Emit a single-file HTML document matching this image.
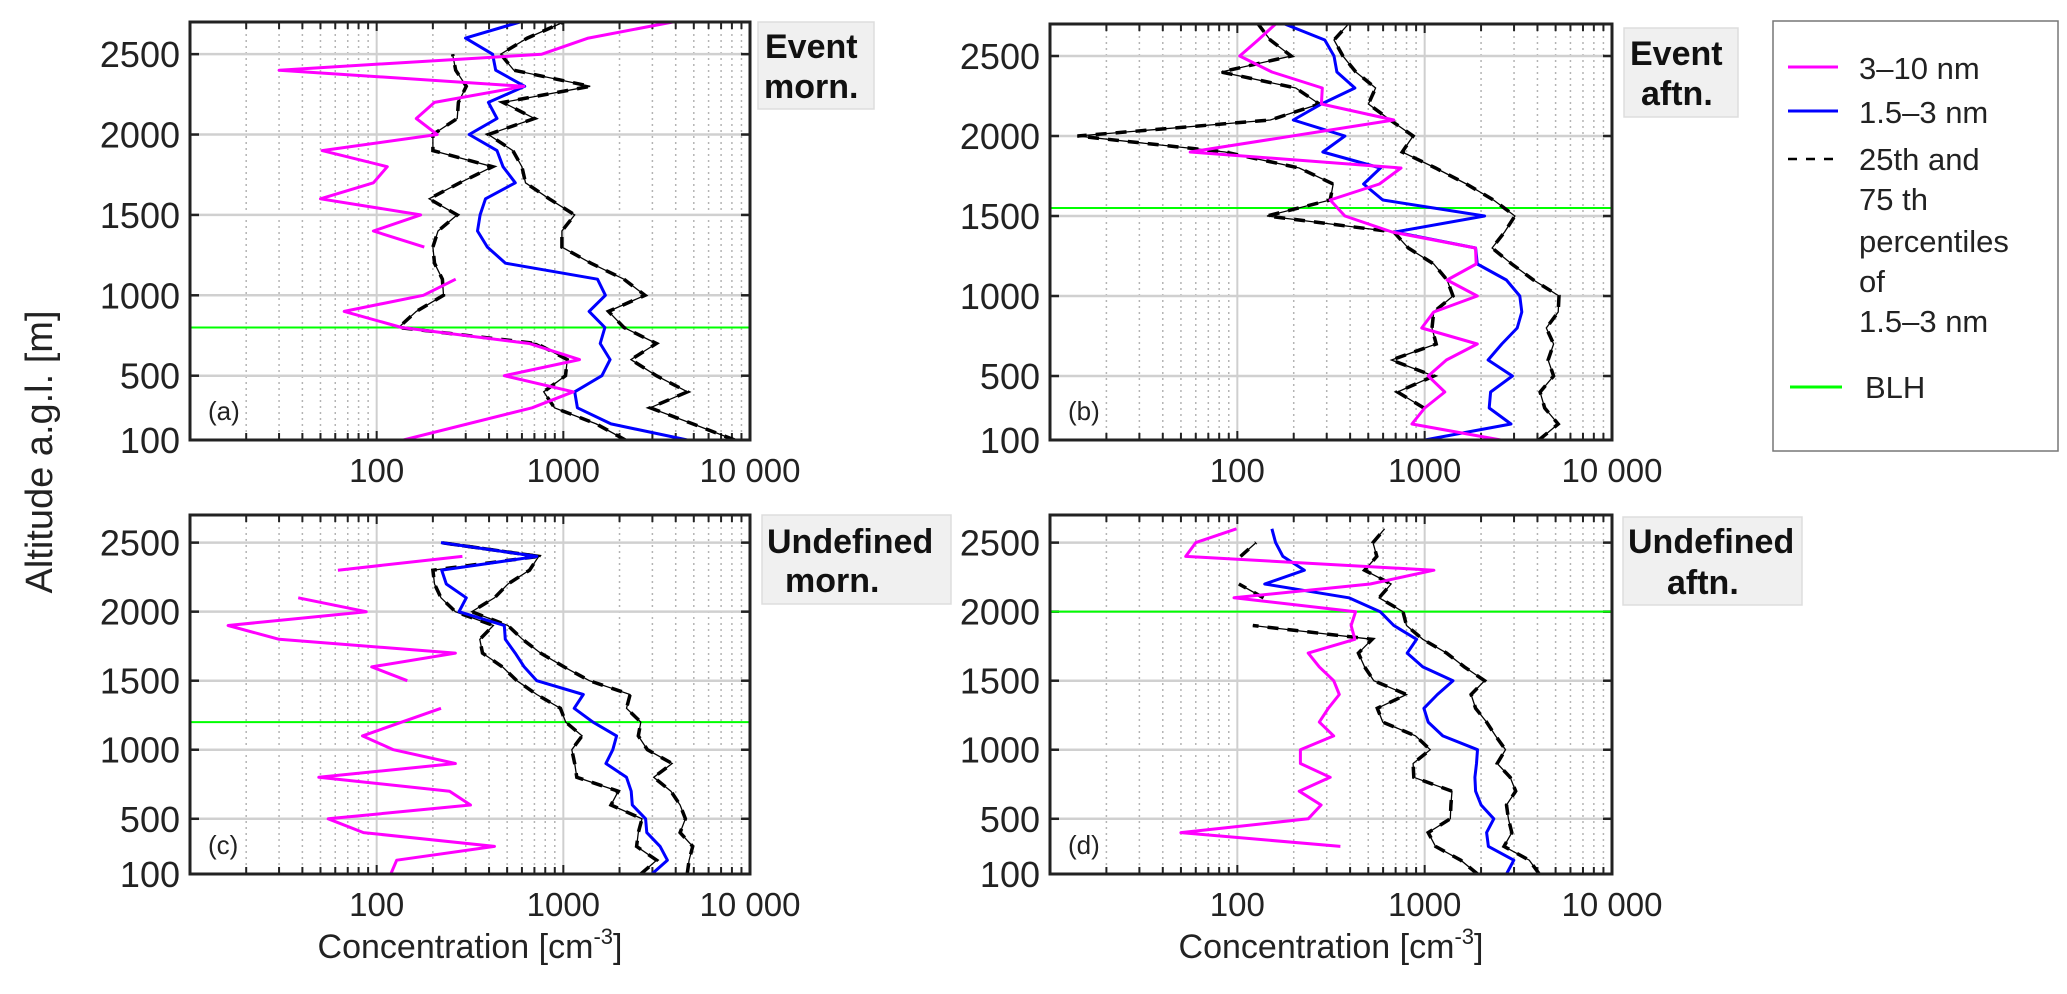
<!DOCTYPE html>
<html><head><meta charset="utf-8"><style>
html,body{margin:0;padding:0;background:#fff;}
svg{display:block;font-family:"Liberation Sans",Arial,sans-serif;}
</style></head><body>
<svg id="chart" width="2067" height="994" viewBox="0 0 2067 994" xmlns="http://www.w3.org/2000/svg">
<text x="0" y="0" transform="translate(52,452) rotate(-90)" text-anchor="middle" font-size="38" fill="#222">Altitude a.g.l. [m]</text>
<text x="470" y="958" text-anchor="middle" font-size="34" fill="#222">Concentration [cm<tspan dy="-14" font-size="22">-3</tspan><tspan dy="14">]</tspan></text>
<text x="1331" y="958" text-anchor="middle" font-size="34" fill="#222">Concentration [cm<tspan dy="-14" font-size="22">-3</tspan><tspan dy="14">]</tspan></text>

<g>
<rect x="1773" y="21" width="285" height="430" fill="#fff" stroke="#777" stroke-width="1.5"/>
<line x1="1788" y1="67" x2="1838" y2="67" stroke="#ff00ff" stroke-width="3"/>
<text x="1859" y="79" font-size="31" fill="#222">3–10 nm</text>
<line x1="1788" y1="111" x2="1838" y2="111" stroke="#0000ff" stroke-width="3"/>
<text x="1859" y="123" font-size="31" fill="#222">1.5–3 nm</text>
<line x1="1788" y1="159" x2="1842" y2="159" stroke="#000" stroke-width="2.5" stroke-dasharray="9 9"/>
<text font-size="31" fill="#222"><tspan x="1859" y="170">25th and</tspan><tspan x="1859" y="210">75 th</tspan><tspan x="1859" y="252">percentiles</tspan><tspan x="1859" y="292">of</tspan><tspan x="1859" y="332">1.5–3 nm</tspan></text>
<line x1="1790" y1="387" x2="1842" y2="387" stroke="#00ff00" stroke-width="3"/>
<text x="1865" y="398" font-size="31" fill="#222">BLH</text>
</g>
</svg>
<script>
// ---- data: altitudes (m) and concentrations (cm^-3); null = gap ----
const yTicks = [100, 500, 1000, 1500, 2000, 2500];
const xTickVals = [100, 1000, 10000];
const xTickLabels = ["100", "1000", "10 000"];

const aMagAlt = [100,300,400,500,600,700,800,900,1000,1100,null,1300,1400,1500,1600,1700,1800,1900,2000,2100,2200,2300,2400,2500,2600,2700];
const aMagVal = [139,680,1130,483,1220,656,136,67,178,265,null,180,96,172,50,96,114,51,211,163,204,614,30,767,1360,3860];
const aBlueAlt = [100,200,300,400,500,600,700,800,900,1000,1100,1200,1300,1400,1500,1600,1700,1800,1900,2000,2100,2200,2300,2400,2500,2600,2700];
const aBlueVal = [4620,1800,1190,1150,1610,1780,1575,1670,1375,1680,1525,490,392,347,358,383,553,475,441,313,441,397,621,434,418,299,586];
const aP25Alt = [100,200,300,400,500,600,700,800,900,1000,1100,1200,1300,1400,1500,1600,1700,1800,1900,2000,2100,2200,2300,2400,2500];
const aP25Val = [2150,1500,897,785,1027,1050,718,131,163,228,225,204,200,213,270,191,279,418,200,200,270,274,302,265,255];
const aP75Alt = [100,200,300,400,500,600,700,800,900,1000,1100,1200,1300,1400,1500,1600,1700,1800,1900,2000,2100,2200,2300,2400,2500,2600,2700];
const aP75Val = [8280,4940,2920,4620,3150,2300,3150,2110,1745,2740,2110,1405,982,982,1150,840,627,600,536,397,701,475,1393,543,462,641,1005];
const aBlh = 800;

const bMagAlt = [100,200,300,400,500,600,700,800,900,1000,1100,1200,1300,1400,1500,1600,1700,1800,1900,2100,2200,2300,2400,2500,2600,2700];
const bMagVal = [2550,855,1000,1280,1045,1307,1910,964,1117,1910,1318,1885,1867,670,375,313,573,748,56,684,281,284,153,103,129,160];
const bBlueAlt = [100,200,300,400,500,600,700,800,900,1000,1100,1200,1300,1400,1500,1600,1700,1800,1900,2000,2100,2200,2300,2400,2500,2600,2700];
const bBlueVal = [1000,2890,2210,2250,2940,2180,2580,3120,3300,3220,2730,1910,1870,693,2090,598,472,581,286,375,199,281,424,340,328,293,179];
const bP25Alt = [300,400,500,600,700,800,900,1000,1100,1200,1300,1400,1500,1600,1700,1800,1900,2000,2100,2200,2300,2400,2500,2600,2700];
const bP25Val = [991,716,1117,664,1153,1094,1117,1416,1318,1117,818,684,144,313,325,214,86,14,150,274,205,82,194,150,129];
const bP75Alt = [100,200,300,400,500,600,700,800,900,1000,1100,1200,1300,1400,1500,1600,1700,1800,1900,2000,2100,2200,2300,2400,2500,2600,2700];
const bP75Val = [4070,5160,4370,4130,4880,4560,4880,4460,5160,5210,3810,2920,2290,2670,3030,2330,1670,1143,759,867,655,501,547,429,366,328,392];
const bBlh = 1550;

const cMagAlt = [100,200,300,400,500,600,700,800,900,1000,1100,1300,null,1500,1600,1700,1800,1900,2000,2100,null,2300,2400];
const cMagVal = [119,128,428,85,55,318,246,49,264,123,84,221,null,146,94,264,30,16,88,38,null,62,288];
const cBlueAlt = [100,200,300,400,500,600,700,800,900,1000,1100,1200,1300,1400,1500,1600,1700,1800,1900,2000,2100,2200,2300,2400,2500];
const cBlueVal = [2980,3610,3300,2800,2760,2340,2310,2180,1690,1840,1930,1440,1143,1280,721,617,552,489,483,276,302,236,223,721,221];
const cP25Alt = [100,200,300,400,500,600,700,800,900,1000,1100,1200,1300,1400,1500,1600,1700,1800,1900,2000,2100,2200,2300,2400,2500];
const cP25Val = [2600,3160,2470,2520,2640,1800,1970,1180,1150,1110,1260,1030,964,721,564,472,369,357,422,264,221,204,200,738,221];
const cP75Alt = [100,200,300,400,500,600,700,800,900,1000,1100,1200,1300,1400,1500,1600,1700,1800,1900,2000,2100,2200,2300,2400,2500];
const cP75Val = [4610,4720,4930,4220,4510,4220,3770,3050,3830,2820,2520,2600,2180,2280,1380,1010,755,604,505,323,428,505,659,738,221];
const cBlh = 1200;

const dMagAlt = [300,400,500,600,700,800,900,1000,1100,1200,1300,1400,1500,1600,1700,1800,1900,2000,2100,2200,2300,2400,2500,2600];
const dMagVal = [355,50,239,280,214,313,217,217,327,274,306,350,327,274,239,424,405,428,96,512,1120,53,60,99];
const dBlueAlt = [100,200,300,400,500,600,700,800,900,1000,1100,1200,1300,1400,1500,1600,1700,1800,1900,2000,2100,2200,2300,2400,2500,2600];
const dBlueVal = [2735,2990,2190,2140,2340,2000,1870,1855,1890,1915,1250,1045,991,1170,1416,977,807,906,684,579,394,140,228,175,160,153];
const dP25Alt = [100,200,300,400,500,600,700,800,900,1000,1100,1200,1300,1400,1500,1600,1700,1800,1900,null,2100,2200,null,2400,2500];
const dP25Val = [1915,1560,1143,1045,1370,1380,1400,875,867,1070,894,598,559,800,535,478,443,524,121,null,138,102,null,104,126];
const dP75Alt = [100,200,300,400,500,600,700,800,900,1000,1100,1200,1300,1400,1500,1600,1700,1800,1900,2000,2100,2200,2300,2400,2500,2600];
const dP75Val = [4090,3620,2650,2920,2800,2735,3060,2860,2440,2700,2390,2140,1870,1770,2090,1630,1310,977,800,766,571,662,478,555,530,611];
const dBlh = 2000;

const NS = "http://www.w3.org/2000/svg";
const svg = document.getElementById("chart");
function mk(tag, attrs, parent) {
  const e = document.createElementNS(NS, tag);
  for (const k in attrs) e.setAttribute(k, attrs[k]);
  (parent || svg).appendChild(e);
  return e;
}

const panels = [
  {id:"a", L:190, R:750, T:22, B:440, mag:[aMagAlt,aMagVal], blue:[aBlueAlt,aBlueVal], p25:[aP25Alt,aP25Val], p75:[aP75Alt,aP75Val], blh:aBlh,
   box:[758,22,116,87], lines:[["Event",765,58],["morn.",764,98]]},
  {id:"b", L:1050, R:1612, T:24, B:440, mag:[bMagAlt,bMagVal], blue:[bBlueAlt,bBlueVal], p25:[bP25Alt,bP25Val], p75:[bP75Alt,bP75Val], blh:bBlh,
   box:[1624,28,114,89], lines:[["Event",1630,65],["aftn.",1641,105]]},
  {id:"c", L:190, R:750, T:515, B:874, mag:[cMagAlt,cMagVal], blue:[cBlueAlt,cBlueVal], p25:[cP25Alt,cP25Val], p75:[cP75Alt,cP75Val], blh:cBlh,
   box:[762,515,189,89], lines:[["Undefined",767,553],["morn.",785,592]]},
  {id:"d", L:1050, R:1612, T:515, B:874, mag:[dMagAlt,dMagVal], blue:[dBlueAlt,dBlueVal], p25:[dP25Alt,dP25Val], p75:[dP75Alt,dP75Val], blh:dBlh,
   box:[1623,517,179,88], lines:[["Undefined",1628,553],["aftn.",1667,594]]}
];

panels.forEach(p => {
  const g = mk("g", {});
  
  
  const xs = v => p.L + (Math.log10(v) - 1) / 3 * (p.R - p.L);
  const ys = a => p.B - (a - 100) / 2600 * (p.B - p.T);
  const clipId = "clip" + p.id;
  const cp = mk("clipPath", {id: clipId}, g);
  mk("rect", {x:p.L, y:p.T, width:p.R-p.L, height:p.B-p.T}, cp);

  for (let d = 10; d < 10000; d *= 10) {
    for (let m = 1; m <= 9; m++) {
      const v = d * m; if (v <= 10) continue;
      const x = xs(v);
      const major = (m === 1);
      const gl = mk("line", {x1:x, y1:p.T, x2:x, y2:p.B, stroke: major ? "#cfcfcf" : "#b4b4b4", "stroke-width": major ? 2 : 1.5, "stroke-dasharray": major ? "none" : "2 4"}, g);
      
      
      const tl = major ? 9 : 7;
      mk("line", {x1:x, y1:p.B, x2:x, y2:p.B - tl, stroke:"#222", "stroke-width":2}, g);
      mk("line", {x1:x, y1:p.T, x2:x, y2:p.T + tl, stroke:"#222", "stroke-width":2}, g);
    }
  }
  yTicks.forEach(t => {
    const y = ys(t);
    if (t !== 100) {
      const hl = mk("line", {x1:p.L, y1:y, x2:p.R, y2:y, stroke:"#d0d0d0", "stroke-width":2.5}, g);
      
      
      mk("line", {x1:p.L, y1:y, x2:p.L + 9, y2:y, stroke:"#222", "stroke-width":2.5}, g);
      mk("line", {x1:p.R, y1:y, x2:p.R - 9, y2:y, stroke:"#222", "stroke-width":2.5}, g);
    }
    const tx = mk("text", {x:p.L - 10, y:y + 13, "text-anchor":"end", "font-size":36, fill:"#222"}, g);
    
    
    tx.textContent = String(t);
  });
  xTickVals.forEach((v, i) => {
    const tx = mk("text", {x:xs(v), y:p.B + 42, "text-anchor":"middle", "font-size":33, fill:"#222"}, g);
    
    
    tx.textContent = xTickLabels[i];
  });

  const series = mk("g", {"clip-path":"url(#" + clipId + ")"}, g);
  function pathFrom(alts, vals) {
    let d = "", pen = false;
    for (let i = 0; i < alts.length; i++) {
      if (alts[i] === null || vals[i] === null) { pen = false; continue; }
      d += (pen ? "L" : "M") + xs(vals[i]).toFixed(1) + "," + ys(alts[i]).toFixed(1) + " ";
      pen = true;
    }
    return d;
  }
  const bl = mk("line", {x1:p.L, y1:ys(p.blh), x2:p.R, y2:ys(p.blh), stroke:"#00ff00", "stroke-width":2}, series);
  
  
  [["p25", p.p25], ["p75", p.p75]].forEach(([nm, s]) => {
    const d = pathFrom(s[0], s[1]);
    const thin = mk("path", {d:d, fill:"none", stroke:"#000", "stroke-width":1.3}, series);
    
    
    const dash = mk("path", {d:d, fill:"none", stroke:"#000", "stroke-width":3.5, "stroke-dasharray":"11 9"}, series);
    
    
  });
  const bp = mk("path", {d:pathFrom(p.blue[0], p.blue[1]), fill:"none", stroke:"#0000ff", "stroke-width":3, "stroke-linejoin":"round"}, series);
  
  
  const mp = mk("path", {d:pathFrom(p.mag[0], p.mag[1]), fill:"none", stroke:"#ff00ff", "stroke-width":3, "stroke-linejoin":"round"}, series);
  
  

  const fr = mk("rect", {x:p.L, y:p.T, width:p.R-p.L, height:p.B-p.T, fill:"none", stroke:"#222", "stroke-width":3}, g);
  
  
  const pl = mk("text", {x:p.L + 18, y:p.B - 20, "font-size":26, fill:"#222"}, g);
  
  
  pl.textContent = "(" + p.id + ")";
  const bx = p.box;
  const br = mk("rect", {x:bx[0], y:bx[1], width:bx[2], height:bx[3], fill:"#f0f0f0", stroke:"#dddddd", "stroke-width":1.5}, g);
  
  
  const bt = mk("text", {"font-size":34, "font-weight":"bold", fill:"#111"}, g);
  
  
  p.lines.forEach(ln => {
    const ts = mk("tspan", {x: ln[1], y: ln[2]}, bt);
    ts.textContent = ln[0];
  });
});
</script>
</body></html>
